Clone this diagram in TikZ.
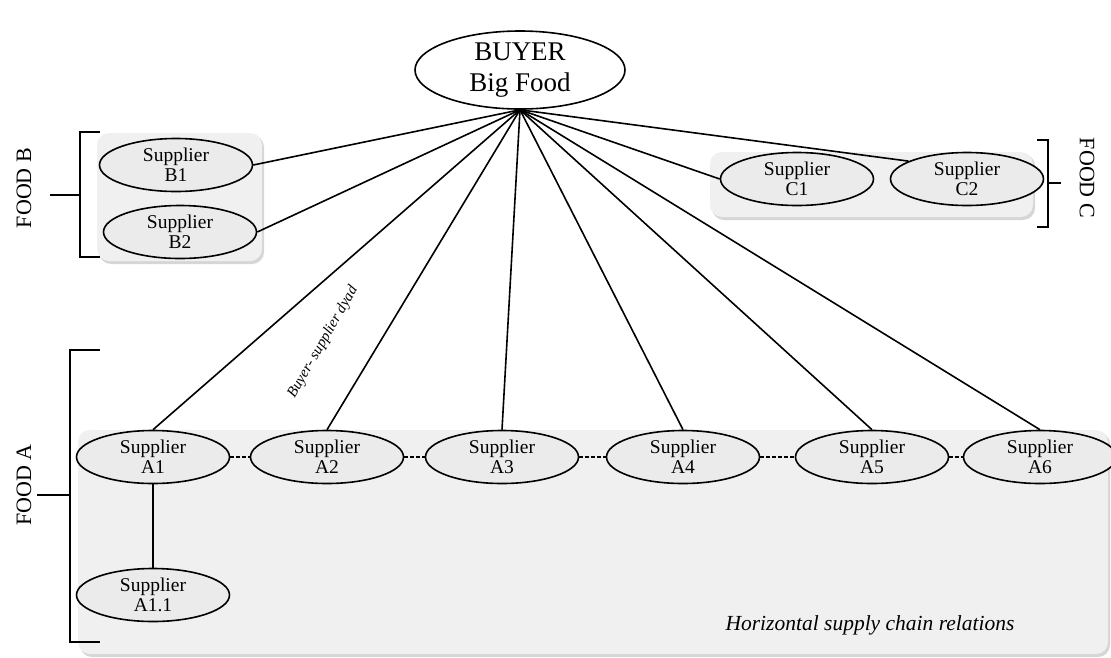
\documentclass[tikz,border=0pt]{standalone}
\usepackage{fontspec}
\setmainfont{Liberation Serif}
\usetikzlibrary{shapes.geometric}
\definecolor{boxgray}{HTML}{F0F0F0}
\definecolor{ellgray}{HTML}{EBEBEB}
\definecolor{shadowgray}{HTML}{D6D6D6}
\tikzset{
  sup/.style={draw, ellipse, line width=1.6pt, fill=ellgray, minimum width=153pt, minimum height=53pt, inner sep=0pt, align=center, font=\fontsize{19.5}{20}\selectfont},
  grp/.style={fill=boxgray, rounded corners=12pt},
  grpshadow/.style={fill=shadowgray, rounded corners=12pt},
  link/.style={line width=1.6pt},
  hlink/.style={line width=1.6pt, dashed, dash pattern=on 4pt off 2pt},
  brk/.style={line width=1.7pt},
  foodlbl/.style={font=\fontsize{22}{24}\selectfont}
}
\begin{document}
\begin{tikzpicture}[x=1pt,y=-1pt]
\useasboundingbox (0,0) rectangle (1111,657);
% group boxes
\fill[grpshadow] (99,135) rectangle (264,264);
\fill[grp] (97,133) rectangle (262,261);
\fill[grpshadow] (712,154) rectangle (1035,220);
\fill[grp] (710,152) rectangle (1033,217);
\fill[grpshadow] (80,432) rectangle (1110,657);
\fill[grp] (78,430) rectangle (1108,654);
% nodes
\node[draw, ellipse, line width=1.6pt, fill=white, minimum width=210pt, minimum height=78pt, inner sep=0pt, align=center, font=\fontsize{27}{31}\selectfont] (buyer) at (520,70) {BUYER\\Big Food};
\node[sup] (B1) at (176,165) {Supplier\\B1};
\node[sup] (B2) at (180,232) {Supplier\\B2};
\node[sup] (C1) at (797,179) {Supplier\\C1};
\node[sup] (C2) at (967,179) {Supplier\\C2};
\node[sup] (A1) at (153,457) {Supplier\\A1};
\node[sup] (A2) at (327,457) {Supplier\\A2};
\node[sup] (A3) at (502,457) {Supplier\\A3};
\node[sup] (A4) at (683,457) {Supplier\\A4};
\node[sup] (A5) at (872,457) {Supplier\\A5};
\node[sup] (A6) at (1040,457) {Supplier\\A6};
\node[sup] (A11) at (153,595) {Supplier\\A1.1};
% connectors
\coordinate (hub) at (buyer.south);
\draw[link] (hub) -- (B1.east);
\draw[link] (hub) -- (B2.east);
\draw[link] (hub) -- (C1.west);
\draw[link] (hub) -- (C2.163);
\foreach \n in {A1,A2,A3,A4,A5,A6} \draw[link] (hub) -- (\n.north);
\draw[link] (A1) -- (A11);
\draw[hlink] (A1.east) -- (A2.west);
\draw[hlink] (A2.east) -- (A3.west);
\draw[hlink] (A3.east) -- (A4.west);
\draw[hlink] (A4.east) -- (A5.west);
\draw[hlink] (A5.east) -- (A6.west);
% brackets
\coordinate (bBt) at (100,132); \coordinate (bBb) at (100,257);
\draw[brk] (bBt) -- (80,132) -- (80,257) -- (bBb);
\coordinate (bBm) at (50,195);
\draw[brk] (bBm) -- (80,195);
\coordinate (bAt) at (100,350); \coordinate (bAb) at (100,642);
\draw[brk] (bAt) -- (70,350) -- (70,642) -- (bAb);
\coordinate (bAm) at (37,495);
\draw[brk] (bAm) -- (70,495);
\coordinate (bCt) at (1037,140); \coordinate (bCb) at (1037,227);
\draw[brk] (bCt) -- (1048,140) -- (1048,227) -- (bCb);
\coordinate (bCm) at (1061,183);
\draw[brk] (bCm) -- (1048,183);
% labels
\node[foodlbl, rotate=90] (lB) at (24,188) {FOOD B};
\node[foodlbl, rotate=90] (lA) at (24,485) {FOOD A};
\node[foodlbl, rotate=-90] (lC) at (1087,178) {FOOD C};
\node[rotate=60, font=\fontsize{15}{17}\selectfont\itshape] (dyad) at (323,342) {Buyer- supplier dyad};
\node[font=\fontsize{21.5}{23}\selectfont\itshape] (horiz) at (870,625) {Horizontal supply chain relations};
\end{tikzpicture}
\end{document}
